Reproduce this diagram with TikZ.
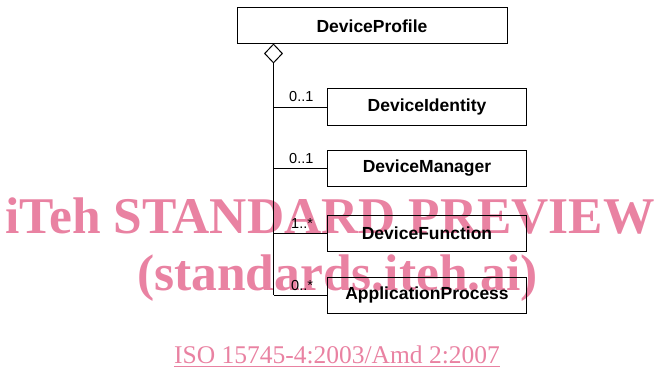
\documentclass[tikz,border=0pt]{standalone}
\usepackage{fontspec}
\setmainfont{Liberation Sans}
\newfontfamily\wmfont{Liberation Serif}
\usetikzlibrary{shapes.geometric}
\definecolor{wmpink}{RGB}{233,130,162}
\begin{document}
\begin{tikzpicture}[x=1pt,y=1pt,
  cls/.style={draw, line width=1pt, minimum width=199pt, minimum height=36pt, inner sep=0pt,
              font=\bfseries\fontsize{17.5}{20}\selectfont},
  mult/.style={font=\fontsize{14.5}{16}\selectfont, anchor=base west, inner sep=0pt},
  conn/.style={line width=1pt},
  wm/.style={font=\wmfont\bfseries\fontsize{51.5}{56}\selectfont, text=wmpink, inner sep=0pt, anchor=base},
  isotext/.style={font=\wmfont\fontsize{25.5}{28}\selectfont, text=wmpink, inner sep=0pt, anchor=base}]
\useasboundingbox (0,0) rectangle (659,-369);
% watermark (behind the diagram)
\node[wm] (wm1) at (330,-233) {iTeh STANDARD PREVIEW};
\node[wm] (wm2) at (337.5,-290) {(standards.iteh.ai)};
\node[isotext] (iso) at (337,-363) {ISO 15745-4:2003/Amd 2:2007};
\draw[wmpink, line width=1pt] ([yshift=-3.5pt]iso.base west) -- ([yshift=-3.5pt]iso.base east);
% classes
\node[cls, minimum width=270pt, minimum height=35.5pt] (dp) at (372,-25.75) {DeviceProfile};
\node[cls] (di) at (427,-107) {DeviceIdentity};
\node[cls] (dm) at (427,-168.5) {DeviceManager};
\node[cls] (df) at (427,-233) {DeviceFunction};
\node[cls] (ap) at (427,-295) {ApplicationProcess};
% aggregation diamond
\node[draw, diamond, line width=1pt, minimum width=18pt, minimum height=19pt, inner sep=0pt,
      fill=white, anchor=north] (dia) at (273.5,-43.5) {};
% connectors
\draw[conn] (dia.south) -- (dia.south |- ap.west);
\draw[conn] (dia.south |- di.west) -- (di.west);
\draw[conn] (dia.south |- dm.west) -- (dm.west);
\draw[conn] (dia.south |- df.west) -- (df.west);
\draw[conn] (dia.south |- ap.west) -- (ap.west);
% multiplicities
\node[mult] (m1) at (289,-102) {0..1};
\node[mult] (m2) at (289,-163.5) {0..1};
\node[mult] (m3) at (291,-228) {1..*};
\node[mult] (m4) at (291,-290) {0..*};
\end{tikzpicture}
\end{document}
